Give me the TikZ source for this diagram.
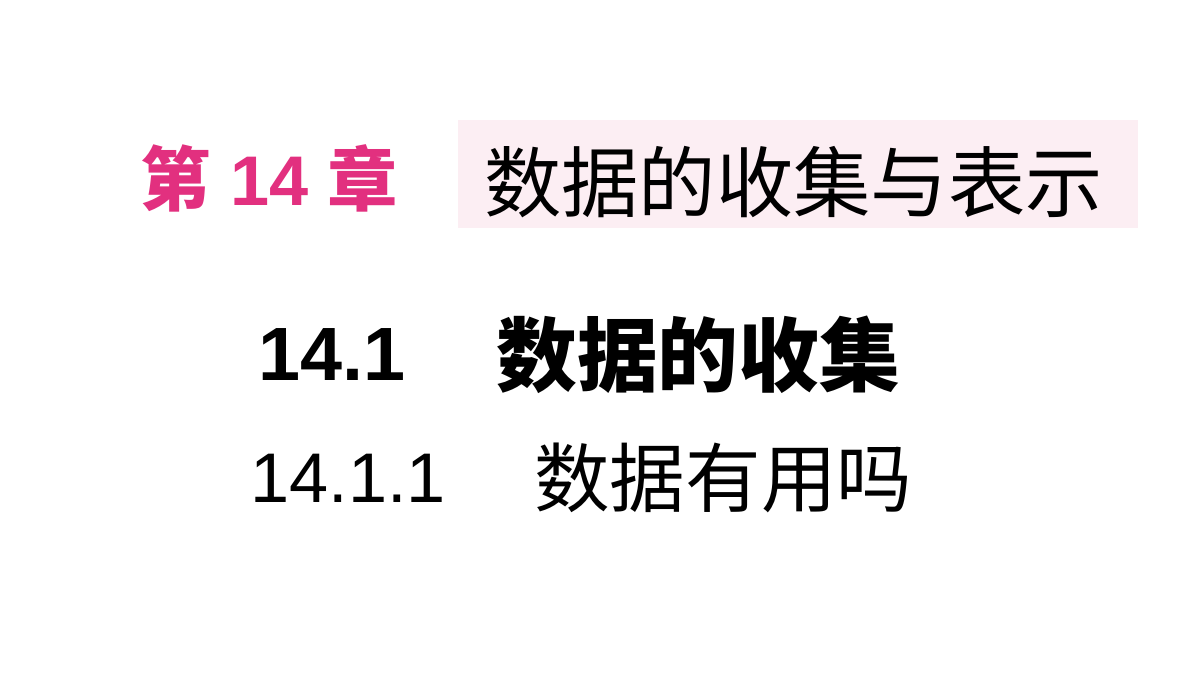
\documentclass[tikz,border=0pt]{standalone}
\usepackage{fontspec}
\setmainfont{Liberation Sans}
\newfontfamily\cjk{Noto Sans CJK SC}
\usetikzlibrary{positioning}
\definecolor{chapterpink}{HTML}{E2307F}
\definecolor{bandpink}{HTML}{FCEEF3}

\begin{document}
\begin{tikzpicture}[
    x=0.02cm, y=-0.02cm,
    every node/.style={inner sep=0pt, anchor=west},
    chapter/.style={text=chapterpink, font=\fontsize{40}{46}\selectfont\bfseries},
    title/.style={font=\fontsize{44}{50}\selectfont\cjk},
    section/.style={font=\fontsize{43}{50}\selectfont\bfseries},
    subsection/.style={font=\fontsize{40}{46}\selectfont}
]
\useasboundingbox (0,0) rectangle (1200,675);

% Chapter heading
\fill[bandpink] (458,120) rectangle (1138,228);
\node[chapter] (chap) at (140,178) {{\cjk 第} 14 {\cjk 章}};
\node[title] (chaptitle) at (484,182) {数据的收集与表示};

% Section
\node[section] (secnum) at (258,355) {14.1};
\node[section, font=\fontsize{46}{52}\selectfont\cjk\bfseries] (sectitle) at (496,355) {数据的收集};

% Subsection
\node[subsection] (subnum) at (250,478) {14.1.1};
\node[subsection, font=\fontsize{43}{48}\selectfont\cjk] (subtitle) at (534,478) {数据有用吗};
\end{tikzpicture}
\end{document}
